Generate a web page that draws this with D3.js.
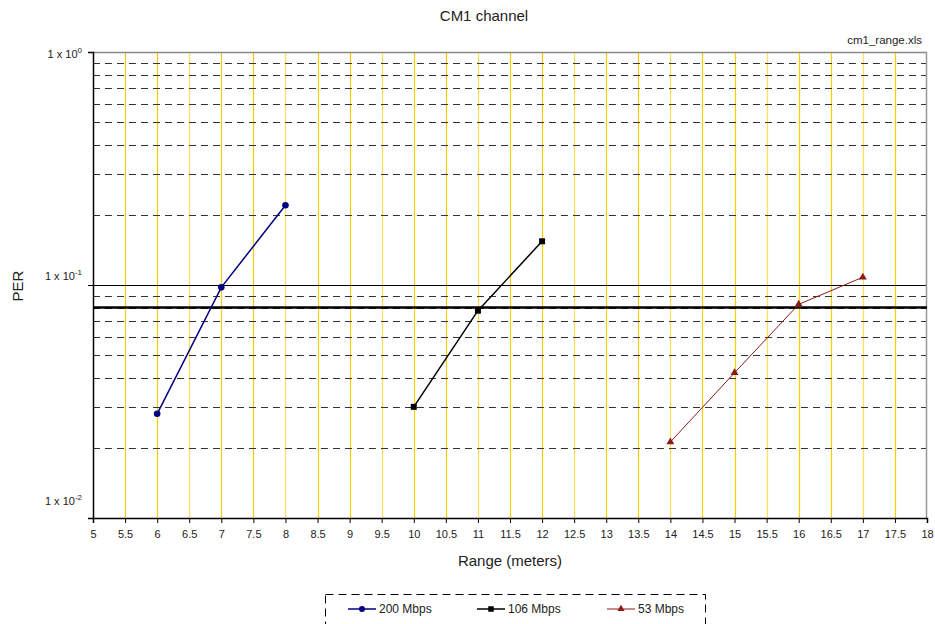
<!DOCTYPE html>
<html>
<head>
<meta charset="utf-8">
<script src="https://cdn.jsdelivr.net/npm/d3@7"></script>
<style>
  body { margin: 0; background: #fff; }
  text { font-family: "Liberation Sans", Arial, sans-serif; fill: #222; }
</style>
</head>
<body>
<div id="chart-area"></div>
<script>
'use strict';
const svg_width = 935;
const svg_height = 624;
const margin = {top: 52, right: 8, bottom: 106, left: 93};

// data
const ranges_200 = [6, 7, 8];
const per_200 = [0.028, 0.0977, 0.22];
const ranges_106 = [10, 11, 12];
const per_106 = [0.030, 0.0776, 0.154];
const ranges_53 = [14, 15, 16, 17];
const per_53 = [0.0212, 0.042, 0.0826, 0.108];
const series_names = ['200 Mbps', '106 Mbps', '53 Mbps'];
const x_ticks = d3.range(5, 18.01, 0.5);
const y_major = [1, 0.1, 0.01];
const y_exponents = ['0', '-1', '-2'];
const threshold = 0.08;

const series = [
  {name: series_names[0], xs: ranges_200, ys: per_200, color: '#000080', width: 1.5, marker: 'circle'},
  {name: series_names[1], xs: ranges_106, ys: per_106, color: '#000000', width: 1.5, marker: 'square'},
  {name: series_names[2], xs: ranges_53, ys: per_53, color: '#8b1a1a', width: 1, marker: 'triangle'}
];

const svg = d3.select('#chart-area')
  .append('svg')
    .attr('width', svg_width)
    .attr('height', svg_height);

const x_scale = d3.scaleLinear()
  .domain([5, 18])
  .range([margin.left, svg_width - margin.right]);

const y_scale = d3.scaleLog()
  .domain([0.01, 1])
  .range([svg_height - margin.bottom, margin.top]);

const plot_left = margin.left, plot_right = svg_width - margin.right;
const plot_top = margin.top, plot_bottom = svg_height - margin.bottom;

// vertical gold gridlines
svg.append('g')
  .selectAll('line').data(x_ticks.slice(1, -1)).enter()
  .append('line')
    .attr('x1', d => Math.round(x_scale(d)) + 0.5).attr('x2', d => Math.round(x_scale(d)) + 0.5)
    .attr('y1', plot_top).attr('y2', plot_bottom)
    .attr('stroke', (d, i) => i % 3 === 2 ? '#ffdd55' : '#ffcc00')
    .attr('stroke-width', 1.2);

// minor dashed gridlines (2..9 x 10^k)
const minor = [];
[0.01, 0.1].forEach(b => { for (let m = 2; m <= 9; m++) minor.push(b * m); });
svg.append('g')
  .selectAll('line').data(minor).enter()
  .append('line')
    .attr('x1', plot_left).attr('x2', plot_right)
    .attr('y1', d => Math.round(y_scale(d)) + 0.5).attr('y2', d => Math.round(y_scale(d)) + 0.5)
    .attr('stroke', '#333')
    .attr('stroke-width', 1)
    .attr('stroke-dasharray', '7,5');

// major gridline at 0.1
svg.append('line')
  .attr('x1', plot_left).attr('x2', plot_right)
  .attr('y1', Math.round(y_scale(0.1)) + 0.5).attr('y2', Math.round(y_scale(0.1)) + 0.5)
  .attr('stroke', '#000').attr('stroke-width', 1);

// top and right border
svg.append('line')
  .attr('x1', plot_left).attr('x2', plot_right)
  .attr('y1', plot_top + 0.5).attr('y2', plot_top + 0.5)
  .attr('stroke', '#888').attr('stroke-width', 1.5);
svg.append('line')
  .attr('x1', plot_right - 0.5).attr('x2', plot_right - 0.5)
  .attr('y1', plot_top).attr('y2', plot_bottom)
  .attr('stroke', '#999').attr('stroke-width', 1.5);

// PER threshold line
svg.append('line')
  .attr('x1', plot_left).attr('x2', plot_right)
  .attr('y1', y_scale(threshold)).attr('y2', y_scale(threshold))
  .attr('stroke', '#000').attr('stroke-width', 2.5);

// x axis
const x_axis = d3.axisBottom(x_scale)
  .tickValues(x_ticks)
  .tickSize(5)
  .tickFormat(d3.format('~g'));
const gx = svg.append('g')
  .attr('transform', `translate(0,${plot_bottom})`)
  .call(x_axis);
gx.select('.domain').attr('stroke', '#000').attr('stroke-width', 1.5);
gx.selectAll('.tick line').attr('stroke', '#000');
gx.selectAll('.tick text')
  .attr('dy', '1.1em')
  .style('font-size', '11px')
  .style('font-family', '"Liberation Sans", Arial, sans-serif')
  .attr('fill', '#222');

// y axis
const y_axis = d3.axisLeft(y_scale)
  .tickValues(y_major)
  .tickSize(5)
  .tickFormat('');
const gy = svg.append('g')
  .attr('transform', `translate(${plot_left},0)`)
  .call(y_axis);
gy.select('.domain').attr('stroke', '#000').attr('stroke-width', 1.5);
gy.selectAll('.tick line').attr('stroke', '#000');

const y_label_dy = [6, -5, -13];
y_major.forEach((v, i) => {
  const t = svg.append('text')
    .attr('x', 82)
    .attr('y', y_scale(v) + y_label_dy[i])
    .attr('text-anchor', 'end')
    .style('font-size', '11px');
  t.append('tspan').text('1 x 10');
  t.append('tspan')
    .attr('dy', -5)
    .style('font-size', '8px')
    .text(y_exponents[i]);
});

// series
const line = d3.line()
  .x(d => x_scale(d[0]))
  .y(d => y_scale(d[1]));

const draw_marker = (g, type, color, size) => {
  if (type === 'circle') {
    g.append('circle').attr('r', size * 0.55).attr('fill', color);
  } else if (type === 'square') {
    g.append('rect')
      .attr('x', -size / 2).attr('y', -size / 2)
      .attr('width', size).attr('height', size)
      .attr('fill', color);
  } else {
    g.append('path')
      .attr('d', d3.symbol(d3.symbolTriangle, size * size * 0.75)())
      .attr('fill', color);
  }
};

series.forEach(s => {
  const pts = s.xs.map((x, i) => [x, s.ys[i]]);
  svg.append('path')
    .datum(pts)
    .attr('d', line)
    .attr('fill', 'none')
    .attr('stroke', s.color)
    .attr('stroke-width', s.width);
  pts.forEach(p => {
    const g = svg.append('g')
      .attr('transform', `translate(${x_scale(p[0])},${y_scale(p[1])})`);
    draw_marker(g, s.marker, s.color, 6);
  });
});

// titles
svg.append('text')
  .attr('x', 484).attr('y', 21)
  .attr('text-anchor', 'middle')
  .style('font-size', '15px')
  .text('CM1 channel');

svg.append('text')
  .attr('x', 922).attr('y', 44)
  .attr('text-anchor', 'end')
  .style('font-size', '11.5px')
  .text('cm1_range.xls');

svg.append('text')
  .attr('transform', `translate(23,286) rotate(-90)`)
  .attr('text-anchor', 'middle')
  .style('font-size', '15px')
  .text('PER');

svg.append('text')
  .attr('x', 510).attr('y', 566)
  .attr('text-anchor', 'middle')
  .style('font-size', '15px')
  .text('Range (meters)');

// legend
svg.append('rect')
  .attr('x', 325.5).attr('y', 594.5)
  .attr('width', 380).attr('height', 60)
  .attr('fill', 'none')
  .attr('stroke', '#000')
  .attr('stroke-dasharray', '8,5');

const legend_x = [348, 477, 607];
series.forEach((s, i) => {
  const lg = svg.append('g').attr('transform', `translate(${legend_x[i]},609)`);
  lg.append('line')
    .attr('x1', 0).attr('x2', 28)
    .attr('stroke', s.color).attr('stroke-width', s.width);
  const m = lg.append('g').attr('transform', 'translate(14,0)');
  draw_marker(m, s.marker, s.color, 5.5);
  lg.append('text')
    .attr('x', 31).attr('y', 4)
    .style('font-size', '12px')
    .text(s.name);
});
</script>
</body>
</html>
